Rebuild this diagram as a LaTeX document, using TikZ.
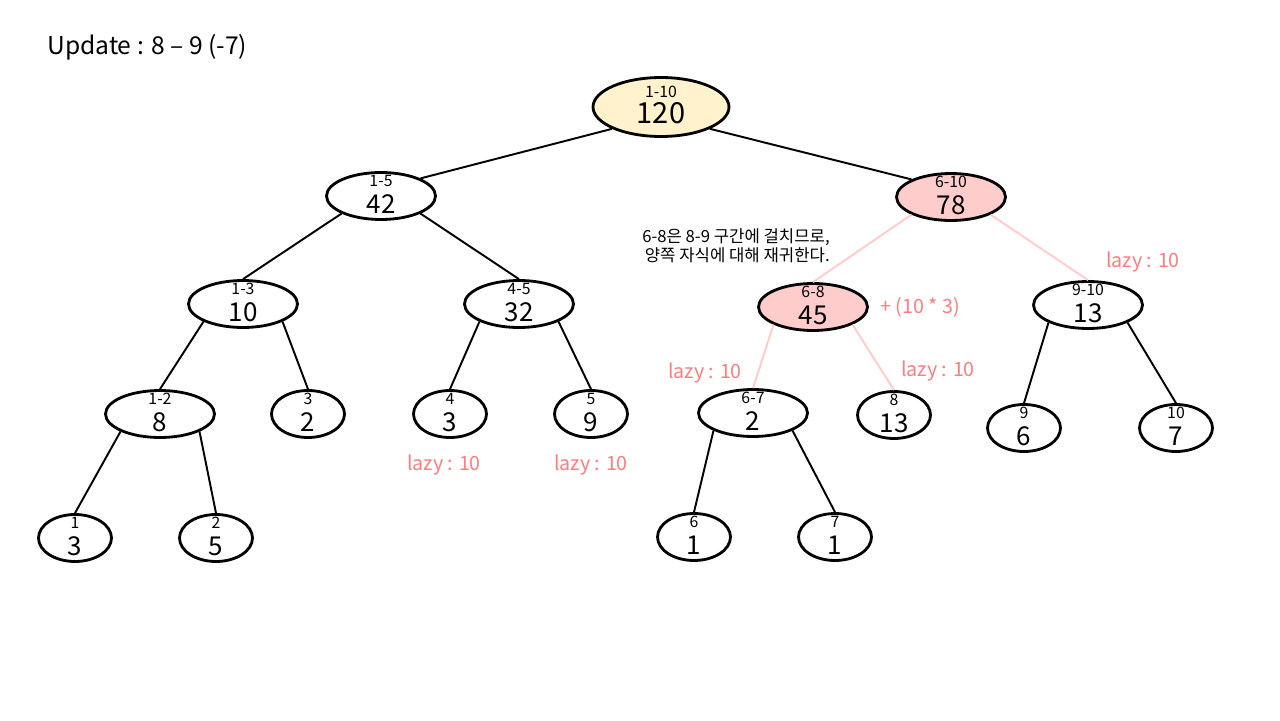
\documentclass[tikz,border=0pt]{standalone}
\usepackage{fontspec}
\setmainfont{Noto Sans CJK KR}
\usepackage{xcolor}
\definecolor{rootfill}{RGB}{255, 242, 204}
\definecolor{hotfill}{RGB}{255, 204, 204}
\definecolor{hotline}{RGB}{255, 204, 204}
\definecolor{lazytext}{RGB}{255, 124, 128}
\usepackage{tikz}
\usetikzlibrary{shapes.geometric, positioning}

% segment node: ellipse + range + sum
\newcommand{\segnode}[5]{%
  \node[#3] (#1) at (#2) {};
  \node[rng] (#1r) at ([yshift=0.3cm]#1.center) {#4};
  \node[val] (#1v) at ([yshift=-0.17cm]#1.center) {#5};
}

\begin{document}
\begin{tikzpicture}[x=0.02cm, y=-0.02cm,
      seg/.style    = {ellipse, draw, line width=1.6pt, fill=white,
                       minimum width=2.18cm, minimum height=0.94cm, inner sep=0pt},
      leaf/.style   = {seg, minimum width=1.46cm},
      hot/.style    = {seg, fill=hotfill},
      rng/.style    = {font=\fontsize{9}{10}\selectfont, inner sep=0pt},
      val/.style    = {font=\fontsize{14.8}{15}\selectfont, inner sep=0pt},
      edge/.style   = {line width=1.1pt},
      hotedge/.style= {line width=1.1pt, color=hotline},
      lazy/.style   = {font=\fontsize{11.2}{13}\selectfont, color=lazytext, inner sep=0pt},
      note/.style   = {font=\fontsize{9.5}{10.6}\selectfont, align=right, inner sep=0pt},
    ]
    \useasboundingbox (0,0) rectangle (1280,720);

    % --- Title ---
    \node[anchor=west, inner sep=0pt, font=\fontsize{14}{16}\selectfont] (title) at (47,47) {Update : 8 – 9 (-7)};

    % --- Root ---
    \node[seg, fill=rootfill, minimum width=2.72cm, minimum height=1.18cm] (root) at (661,107) {};
    \node[rng] (rootr) at ([yshift=0.3cm]root.center) {1-10};
    \node[val, font=\fontsize{16.5}{17}\selectfont] (rootv) at ([yshift=-0.12cm]root.center) {120};

    % --- Level 1 ---
    \segnode{s15}{381,196}{seg}{1-5}{42}
    \segnode{s610}{951,197}{hot}{6-10}{78}

    % --- Level 2 ---
    \segnode{s13}{243,304}{seg}{1-3}{10}
    \segnode{s45}{519,304}{seg}{4-5}{32}
    \segnode{s68}{813,307}{hot}{6-8}{45}
    \segnode{s910}{1088,305}{seg}{9-10}{13}

    % --- Level 3 ---
    \segnode{s12}{160,414}{seg}{1-2}{8}
    \segnode{s3}{308,414}{leaf}{3}{2}
    \segnode{s4}{450,414}{leaf}{4}{3}
    \segnode{s5}{591,414}{leaf}{5}{9}
    \segnode{s67}{753,413}{seg}{6-7}{2}
    \segnode{s8}{894,415}{leaf}{8}{13}
    \segnode{s9}{1024,428}{leaf}{9}{6}
    \segnode{s10}{1176,428}{leaf}{10}{7}

    % --- Level 4 ---
    \segnode{s1}{75,538}{leaf}{1}{3}
    \segnode{s2}{216,538}{leaf}{2}{5}
    \segnode{s6}{694,537}{leaf}{6}{1}
    \segnode{s7}{835,537}{leaf}{7}{1}

    % --- Edges ---
    \draw[edge] (root.south west) -- (s15.north east);
    \draw[edge] (root.south east) -- (s610.north west);
    \draw[edge] (s15.south west) -- (s13.north);
    \draw[edge] (s15.south east) -- (s45.north);
    \draw[hotedge] (s610.south west) -- (s68.north);
    \draw[hotedge] (s610.south east) -- (s910.north);
    \draw[edge] (s13.south west) -- (s12.north);
    \draw[edge] (s13.south east) -- (s3.north);
    \draw[edge] (s45.south west) -- (s4.north);
    \draw[edge] (s45.south east) -- (s5.north);
    \draw[hotedge] (s68.south west) -- (s67.north);
    \draw[hotedge] (s68.south east) -- (s8.north);
    \draw[edge] (s910.south west) -- (s9.north);
    \draw[edge] (s910.south east) -- (s10.north);
    \draw[edge] (s12.south west) -- (s1.north);
    \draw[edge] (s12.south east) -- (s2.north);
    \draw[edge] (s67.south west) -- (s6.north);
    \draw[edge] (s67.south east) -- (s7.north);

    % --- Notes ---
    \node[note, anchor=east] (why) at (830,246) {6-8은 8-9 구간에 걸치므로,\\양쪽 자식에 대해 재귀한다.};
    \node[lazy] (add68) at (920,307) {+ (10 * 3)};
    \node[lazy] (lz910) at (1143,262) {lazy : 10};
    \node[lazy] (lz67) at (705,373) {lazy : 10};
    \node[lazy] (lz8) at (938,371) {lazy : 10};
    \node[lazy] (lz4) at (444,465) {lazy : 10};
    \node[lazy] (lz5) at (591,465) {lazy : 10};

  \end{tikzpicture}
\end{document}
